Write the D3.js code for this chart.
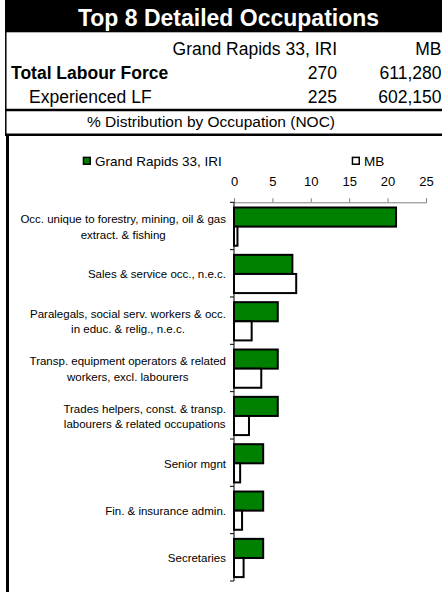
<!DOCTYPE html>
<html>
<head>
<meta charset="utf-8">
<script src="https://cdn.jsdelivr.net/npm/d3@7"></script>
<style>
  body { margin: 0; background: #fff; }
  svg { display: block; font-family: Arial, "Liberation Sans", sans-serif; }
</style>
</head>
<body>
<svg width="442" height="592"></svg>
<script>
// data
const categories = [
    "Occ. unique to forestry, mining, oil & gas\nextract. & fishing",
    "Sales & service occ., n.e.c.",
    "Paralegals, social serv. workers & occ.\nin educ. & relig., n.e.c.",
    "Transp. equipment operators & related\nworkers, excl. labourers",
    "Trades helpers, const. & transp.\nlabourers & related occupations",
    "Senior mgnt",
    "Fin. & insurance admin.",
    "Secretaries"
];
const seriesNames = ["Grand Rapids 33, IRI", "MB"];
const grValues = [21.1, 7.6, 5.7, 5.7, 5.7, 3.8, 3.8, 3.8];
const mbValues = [0.45, 8.1, 2.3, 3.55, 1.95, 0.8, 1.05, 1.25];
const xTicks = [0, 5, 10, 15, 20, 25];

// header table
const tableHead = ["Grand Rapids 33, IRI", "MB"];
const totalLF = ["Total Labour Force", 270, 611280];
const experiencedLF = ["Experienced LF", 225, 602150];

const svg = d3.select("svg");
const fmt = d3.format(",");

// title bar
svg.append("rect")
    .attr("x", 5).attr("y", 0)
    .attr("width", 447).attr("height", 32.3)
    .attr("fill", "#000");
svg.append("text")
    .attr("x", 228.5).attr("y", 26)
    .attr("text-anchor", "middle")
    .attr("fill", "#fff")
    .style("font-size", "23px").style("font-weight", "bold")
    .text("Top 8 Detailed Occupations");

// table rows
svg.append("line")
    .attr("x1", 5.8).attr("x2", 5.8).attr("y1", 32).attr("y2", 135)
    .attr("stroke", "#000").attr("stroke-width", 1.5);

const col2 = 337, col3 = 441.5;
svg.append("text").attr("x", col2).attr("y", 55).attr("text-anchor", "end")
    .style("font-size", "17.5px").text(tableHead[0]);
svg.append("text").attr("x", col3).attr("y", 55).attr("text-anchor", "end")
    .style("font-size", "17.5px").text(tableHead[1]);

svg.append("text").attr("x", 11).attr("y", 78.5)
    .style("font-size", "17.5px").style("font-weight", "bold").text(totalLF[0]);
svg.append("text").attr("x", col2).attr("y", 78.5).attr("text-anchor", "end")
    .style("font-size", "17.5px").text(fmt(totalLF[1]));
svg.append("text").attr("x", col3).attr("y", 78.5).attr("text-anchor", "end")
    .style("font-size", "17.5px").text(fmt(totalLF[2]));

svg.append("text").attr("x", 29).attr("y", 102.7)
    .style("font-size", "17.5px").text(experiencedLF[0]);
svg.append("text").attr("x", col2).attr("y", 102.7).attr("text-anchor", "end")
    .style("font-size", "17.5px").text(fmt(experiencedLF[1]));
svg.append("text").attr("x", col3).attr("y", 102.7).attr("text-anchor", "end")
    .style("font-size", "17.5px").text(fmt(experiencedLF[2]));

svg.append("line")
    .attr("x1", 5).attr("x2", 442).attr("y1", 110).attr("y2", 110)
    .attr("stroke", "#000").attr("stroke-width", 2.5);

svg.append("text").attr("x", 211).attr("y", 127).attr("text-anchor", "middle")
    .style("font-size", "15.5px").text("% Distribution by Occupation (NOC)");

svg.append("line")
    .attr("x1", 5).attr("x2", 442).attr("y1", 134.8).attr("y2", 134.8)
    .attr("stroke", "#000").attr("stroke-width", 2.5);

// chart area left border
svg.append("line")
    .attr("x1", 7.5).attr("x2", 7.5).attr("y1", 134).attr("y2", 592)
    .attr("stroke", "#000").attr("stroke-width", 3);

// scales
const x = d3.scaleLinear().domain([0, 25]).range([234, 426]);
const y = d3.scaleBand().domain(categories).range([202.3, 581]);
const bw = y.bandwidth();
const y1 = d3.scaleBand().domain(seriesNames).range([5.2, bw - 3.9]);
const colors = ["#008000", "#ffffff"];

// legend
const legend = [
    { name: seriesNames[0], x: 82.7, color: colors[0] },
    { name: seriesNames[1], x: 351.7, color: colors[1] }
];
const lg = svg.selectAll(".legend")
    .data(legend)
    .enter().append("g")
    .attr("class", "legend");
lg.append("rect")
    .attr("x", d => d.x + 0.75).attr("y", 157.4)
    .attr("width", 6.8).attr("height", 6.8)
    .attr("fill", d => d.color)
    .attr("stroke", "#000").attr("stroke-width", 1.5);
lg.append("text")
    .attr("x", d => d.x + 12.3).attr("y", 165.5)
    .style("font-size", "13.5px")
    .text(d => d.name);

// top value axis
const xAxis = svg.append("g")
    .attr("transform", "translate(0,202.3)")
    .call(d3.axisTop(x).tickValues(xTicks).tickSize(4).tickSizeOuter(4).tickPadding(12));
xAxis.select(".domain").attr("stroke", "#808080");
xAxis.selectAll(".tick line").attr("stroke", "#808080");
xAxis.selectAll(".tick text")
    .attr("fill", "#000")
    .style("font-size", "13px")
    .style("font-family", "Arial, 'Liberation Sans', sans-serif");

// bars
const rows = svg.selectAll(".row")
    .data(categories)
    .enter().append("g")
    .attr("class", "row")
    .attr("transform", d => "translate(0," + y(d) + ")");

rows.selectAll("rect")
    .data((d, i) => [
        { s: seriesNames[0], v: grValues[i], c: colors[0] },
        { s: seriesNames[1], v: mbValues[i], c: colors[1] }
    ])
    .enter().append("rect")
    .attr("x", x(0))
    .attr("y", d => y1(d.s))
    .attr("width", d => x(d.v) - x(0))
    .attr("height", y1.bandwidth())
    .attr("fill", d => d.c)
    .attr("stroke", "#000")
    .attr("stroke-width", 2);

// category axis: line and boundary ticks
svg.append("line")
    .attr("x1", x(0)).attr("x2", x(0))
    .attr("y1", 202.3).attr("y2", 581)
    .attr("stroke", "#000").attr("stroke-width", 1);
const bounds = categories.map(c => y(c)).concat([581]);
svg.selectAll(".ctick")
    .data(bounds)
    .enter().append("line")
    .attr("class", "ctick")
    .attr("x1", x(0) - 4).attr("x2", x(0))
    .attr("y1", d => d).attr("y2", d => d)
    .attr("stroke", "#000").attr("stroke-width", 1);

// category labels, lines centred on each other, block right-aligned
const labelRight = 226;
const lineH = 15.3;
categories.forEach(c => {
    const lines = c.split("\n");
    const g = svg.append("g");
    const cy = y(c) + bw / 2 + 1;
    const t = g.selectAll("text")
        .data(lines)
        .enter().append("text")
        .attr("y", (d, i) => cy + (i - (lines.length - 1) / 2) * lineH + 4)
        .attr("text-anchor", "middle")
        .attr("fill", "#000")
        .style("font-size", "11.5px")
        .text(d => d);
    let maxW = 0;
    t.each(function () { maxW = Math.max(maxW, this.getComputedTextLength()); });
    t.attr("x", labelRight - maxW / 2);
});
</script>
</body>
</html>
